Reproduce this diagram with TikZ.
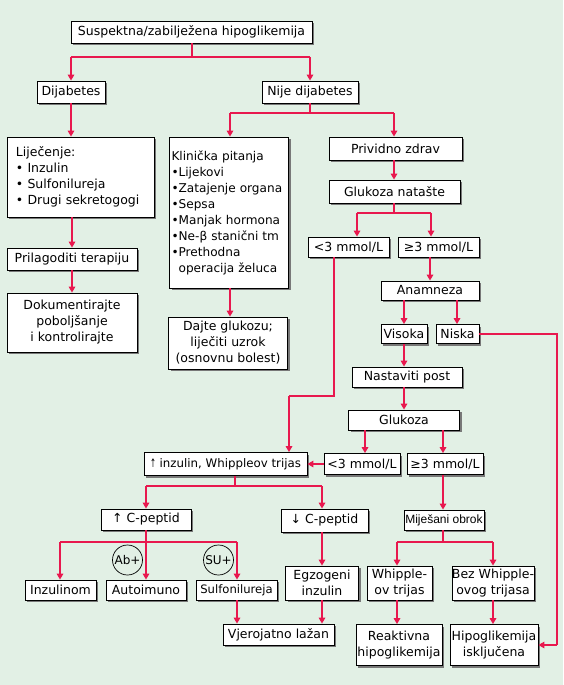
\documentclass[tikz,border=0pt]{standalone}
\usepackage{fontspec}
\setmainfont{DejaVu Sans}
\newfontfamily\arialf{Liberation Sans}
\usetikzlibrary{arrows.meta,shadows}
\definecolor{bg}{RGB}{226,240,229}
\definecolor{lnk}{RGB}{232,24,78}
\definecolor{shd}{RGB}{120,120,120}
\begin{document}
\begin{tikzpicture}[x=1pt,y=-1pt,
  box/.style={draw=black, line width=0.8pt, fill=white, inner sep=0pt, align=center,
    font=\fontsize{12.5}{16}\selectfont,
    drop shadow={shadow xshift=2pt, shadow yshift=-2pt, fill=shd, opacity=1}},
  arr/.style={draw=lnk, line width=1.8pt, -{Triangle[length=6pt,width=6.5pt]}},
  seg/.style={draw=lnk, line width=1.8pt},
  circ/.style={draw=black, line width=0.7pt, circle, minimum size=30pt, inner sep=0pt,
    font=\fontsize{12}{14}\selectfont}]
\fill[bg] (0,0) rectangle (563,685);
\useasboundingbox (0,0) rectangle (563,685);

% nodes
\node[box, minimum width=241pt, minimum height=22pt] (top) at (191.5,32) {Suspektna/zabilježena hipoglikemija};
\node[box, minimum width=68pt, minimum height=22pt] (dia) at (71,92) {Dijabetes};
\node[box, minimum width=96pt, minimum height=22pt] (nije) at (310,92) {Nije dijabetes};
\node[box, minimum width=147pt, minimum height=80pt, text width=129pt, align=left] (lij) at (80.5,177)
  {Liječenje:\\• Inzulin\\• Sulfonilureja\\• Drugi sekretogogi};
\node[box, minimum width=130pt, minimum height=22pt] (prl) at (72,259) {Prilagoditi terapiju};
\node[box, minimum width=130pt, minimum height=59pt] (dok) at (72,322.5) {Dokumentirajte\\poboljšanje\\i kontrolirajte};
\node[box, minimum width=119pt, minimum height=151pt, text width=115pt, align=left,
  font=\fontsize{12.1}{16}\selectfont] (kli) at (229,212.5)
  {Klinička pitanja\\•Lijekovi\\•Zatajenje organa\\•Sepsa\\•Manjak hormona\\•Ne-β stanični tm\\•Prethodna\\\phantom{•}operacija želuca};
\node[box, minimum width=119pt, minimum height=52pt] (daj) at (228,343) {Dajte glukozu;\\liječiti uzrok\\(osnovnu bolest)};
\node[box, minimum width=133pt, minimum height=23pt] (pz) at (395.5,148.5) {Prividno zdrav};
\node[box, minimum width=131pt, minimum height=23pt] (gn) at (394.5,191.5) {Glukoza natašte};
\node[box, minimum width=81pt, minimum height=20pt] (lt1) at (348.5,247) {<3 mmol/L};
\node[box, minimum width=81pt, minimum height=20pt] (ge1) at (438.5,247) {≥3 mmol/L};
\node[box, minimum width=98pt, minimum height=19pt] (ana) at (430,290.5) {Anamneza};
\node[box, minimum width=46pt, minimum height=19pt] (vis) at (404,334) {Visoka};
\node[box, minimum width=43pt, minimum height=19pt] (nis) at (457.5,334) {Niska};
\node[box, minimum width=110pt, minimum height=20pt] (nas) at (407,377) {Nastaviti post};
\node[box, minimum width=111pt, minimum height=20pt] (glu) at (404,420) {Glukoza};
\node[box, minimum width=76pt, minimum height=21pt] (lt2) at (362,464) {<3 mmol/L};
\node[box, minimum width=76pt, minimum height=21pt] (ge2) at (445,464) {≥3 mmol/L};
\node[box, minimum width=163pt, minimum height=23pt, font=\fontsize{11.8}{16}\selectfont] (inz) at (225.5,464) {\scalebox{0.6}[1]{↑} inzulin, Whippleov trijas};
\node[box, minimum width=90pt, minimum height=21pt] (cup) at (146,519.5) {↑ C-peptid};
\node[box, minimum width=87pt, minimum height=23pt] (cdn) at (324.5,520.5) {↓ C-peptid};
\node[box, minimum width=80pt, minimum height=20pt, font=\arialf\fontsize{12}{14}\selectfont] (mij) at (444,520) {Miješani obrok};
\node[box, minimum width=71pt, minimum height=20pt] (inl) at (60.5,590) {Inzulinom};
\node[box, minimum width=80pt, minimum height=20pt] (aut) at (146,590) {Autoimuno};
\node[box, minimum width=81pt, minimum height=20pt, font=\fontsize{11.6}{14}\selectfont] (sul) at (236.5,590) {Sulfonilureja};
\node[box, minimum width=111pt, minimum height=21pt] (vje) at (278.5,634.5) {Vjerojatno lažan};
\node[box, minimum width=73pt, minimum height=34pt] (egz) at (322,583) {Egzogeni\\inzulin};
\node[box, minimum width=65pt, minimum height=34pt] (whi) at (399.5,583) {Whipple-\\ov trijas};
\node[box, minimum width=80pt, minimum height=34pt] (bez) at (493,583) {Bez Whipple-\\ovog trijasa};
\node[box, minimum width=86pt, minimum height=41pt] (rea) at (399,645) {Reaktivna\\hipoglikemija};
\node[box, minimum width=88pt, minimum height=41pt] (hip) at (494,645) {Hipoglikemija\\isključena};
\node[circ] (ab) at (127.5,560) {Ab+};
\node[circ] (su) at (218.5,560) {SU+};

% branch and bend points (integer positions)
\coordinate (b1) at (192,57);
\coordinate (b2) at (310,113);
\coordinate (b7) at (394,213);
\coordinate (k1) at (334,396);
\coordinate (k2) at (289,396);
\coordinate (b5) at (235,486);
\coordinate (b3) at (146,542);
\coordinate (b6) at (443,542);
\coordinate (b4) at (557,334);

% connectors
\draw[seg] (top.south -| b1) -- (b1);
\draw[seg] (b1 -| dia.north) -- (b1 -| nije.north);
\draw[arr] (b1 -| dia.north) -- (dia.north);
\draw[arr] (b1 -| nije.north) -- (nije.north);
\draw[arr] (dia.south) -- (dia.south |- lij.north);
\draw[seg] (nije.south) -- (b2);
\draw[seg] ([xshift=1pt]b2 -| kli.north) -- ([xshift=-1.5pt]b2 -| pz.north);
\draw[arr] ([xshift=1pt]b2 -| kli.north) -- ([xshift=1pt]kli.north);
\draw[arr] ([xshift=-1.5pt]b2 -| pz.north) -- ([xshift=-1.5pt]pz.north);
\draw[arr] (prl.north |- lij.south) -- (prl.north);
\draw[arr] (prl.south) -- (dok.north);
\draw[arr] ([xshift=2pt]daj.north |- kli.south) -- ([xshift=2pt]daj.north);
\draw[arr] ([xshift=-1.5pt]pz.south) -- ([xshift=-0.5pt]gn.north);
\draw[seg] ([xshift=-0.5pt]gn.south) -- (b7);
\draw[seg] ([xshift=8.5pt]b7 -| lt1.north) -- ([xshift=-7.5pt]b7 -| ge1.north);
\draw[arr] ([xshift=8.5pt]b7 -| lt1.north) -- ([xshift=8.5pt]lt1.north);
\draw[arr] ([xshift=-7.5pt]b7 -| ge1.north) -- ([xshift=-7.5pt]ge1.north);
\draw[arr] (ana.north |- ge1.south) -- (ana.north);
\draw[arr] (vis.north |- ana.south) -- (vis.north);
\draw[arr] ([xshift=-0.5pt]nis.north |- ana.south) -- ([xshift=-0.5pt]nis.north);
\draw[arr] (vis.south) -- (vis.south |- nas.north);
\draw[arr] (glu.north |- nas.south) -- (glu.north);
\draw[arr] ([xshift=3pt]lt2.north |- glu.south) -- ([xshift=3pt]lt2.north);
\draw[arr] ([xshift=-2pt]ge2.north |- glu.south) -- ([xshift=-2pt]ge2.north);
\draw[arr] (lt2.west) -- (inz.east |- lt2.west);
\draw[seg] (k1 |- lt1.south) -- (k1) -- (k2);
\draw[arr] (k2) -- (k2 |- inz.north);
\draw[seg] (b5 |- inz.south) -- (b5);
\draw[seg] (b5 -| cup.north) -- ([xshift=-2.5pt]b5 -| cdn.north);
\draw[arr] (b5 -| cup.north) -- (cup.north);
\draw[arr] ([xshift=-2.5pt]b5 -| cdn.north) -- ([xshift=-2.5pt]cdn.north);
\draw[seg] ([xshift=-0.5pt]b3 -| inl.north) -- ([xshift=0.5pt]b3 -| sul.north);
\draw[arr] ([xshift=-0.5pt]b3 -| inl.north) -- ([xshift=-0.5pt]inl.north);
\draw[arr] ([xshift=0.5pt]b3 -| sul.north) -- ([xshift=0.5pt]sul.north);
\draw[arr] (cup.south) -- (aut.north);
\draw[arr] ([xshift=0.5pt]sul.south) -- ([xshift=0.5pt]sul.south |- vje.north);
\draw[arr] ([xshift=-2.5pt]cdn.south) -- (egz.north);
\draw[arr] (egz.south) -- (egz.south |- vje.north);
\draw[arr] ([xshift=-2pt]ge2.south) -- (b6 |- mij.north);
\draw[seg] (b6 |- mij.south) -- (b6);
\draw[seg] ([xshift=-2.5pt]b6 -| whi.north) -- (b6 -| bez.north);
\draw[arr] ([xshift=-2.5pt]b6 -| whi.north) -- ([xshift=-2.5pt]whi.north);
\draw[arr] (b6 -| bez.north) -- (bez.north);
\draw[arr] ([xshift=-2.5pt]whi.south) -- ([xshift=-2.5pt]whi.south |- rea.north);
\draw[arr] (bez.south) -- (bez.south |- hip.north);
\draw[seg] (nis.east) -- (b4) -- (b4 |- hip.east);
\draw[arr] (b4 |- hip.east) -- (hip.east);
\end{tikzpicture}
\end{document}
